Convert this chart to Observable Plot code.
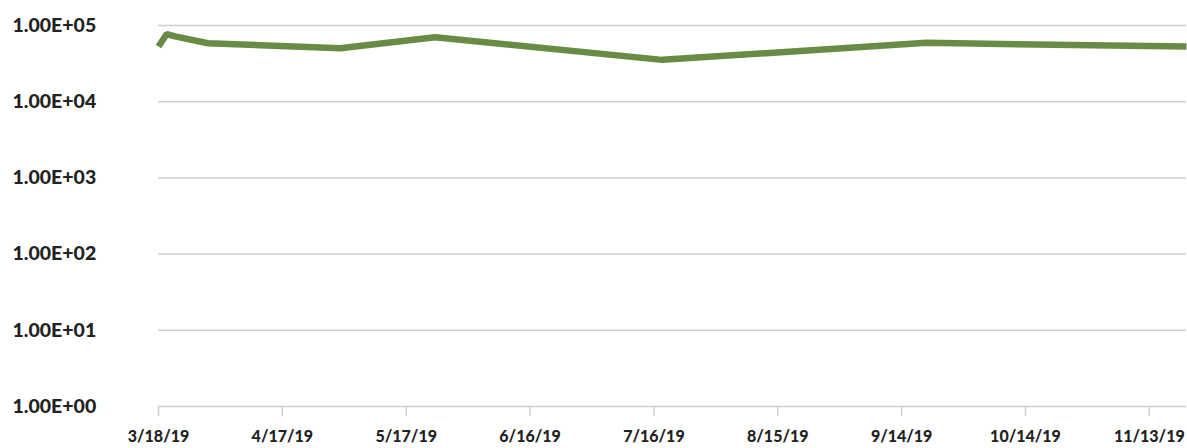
<!DOCTYPE html>
<html>
<head>
<meta charset="utf-8">
<script src="https://cdn.jsdelivr.net/npm/d3@7"></script>
<script src="https://cdn.jsdelivr.net/npm/@observablehq/plot@0.6"></script>
<style>
  html, body { margin: 0; padding: 0; background: #fff; }
  #chart svg { display: block; }
</style>
</head>
<body>
<div id="chart"></div>
<script>
// Data
const dates = ["2019-03-18", "2019-03-20", "2019-03-22", "2019-03-30", "2019-05-01", "2019-05-24", "2019-07-18", "2019-09-20", "2019-11-22"];
const values = [52900, 77300, 72000, 58500, 50300, 70200, 35400, 59200, 52900];

const xTickDates = ["2019-03-18", "2019-04-17", "2019-05-17", "2019-06-16", "2019-07-16", "2019-08-15", "2019-09-14", "2019-10-14", "2019-11-13"];
const xTickLabels = ["3/18/19", "4/17/19", "5/17/19", "6/16/19", "7/16/19", "8/15/19", "9/14/19", "10/14/19", "11/13/19"];
const yTicks = [1, 10, 100, 1000, 10000, 100000];
const yTickLabels = ["1.00E+00", "1.00E+01", "1.00E+02", "1.00E+03", "1.00E+04", "1.00E+05"];

const parse = d3.utcParse("%Y-%m-%d");
const data = dates.map((d, i) => ({date: parse(d), value: values[i]}));
const xTicks = xTickDates.map(parse);
const xDomain = [parse("2019-03-18"), parse("2019-11-22")];

const font = "Lato, 'Open Sans', sans-serif";

const chart = Plot.plot({
  width: 1187,
  height: 448,
  marginTop: 25,
  marginBottom: 42,
  marginLeft: 158,
  marginRight: 1,
  style: {fontFamily: font, fontSize: "19px", fontWeight: 900, color: "#222", background: "#fff"},
  x: {type: "utc", domain: xDomain, label: null},
  y: {type: "log", domain: [1, 100000], label: null},
  marks: [
    Plot.ruleY(yTicks, {stroke: "#cfcfcf", strokeWidth: 1.5}),
    Plot.axisY({
      ticks: yTicks,
      label: null,
      tickSize: 0,
      tickPadding: 146,
      textAnchor: "start",
      tickFormat: (d) => yTickLabels[yTicks.indexOf(d)],
      fill: "#222",
      fontSize: 19.5,
      fontWeight: 900
    }),
    Plot.axisX({
      ticks: xTicks,
      label: null,
      tickSize: 10,
      tickPadding: 14,
      stroke: "#cfcfcf",
      strokeWidth: 1.5,
      tickFormat: (d) => xTickLabels[xTicks.findIndex(t => +t === +d)],
      fill: "#222",
      fontSize: 16,
      fontWeight: 900
    }),
    Plot.line(data, {x: "date", y: "value", stroke: "#688b45", strokeWidth: 6.5, strokeLinejoin: "miter", strokeLinecap: "butt"})
  ]
});
document.getElementById("chart").appendChild(chart);
</script>
</body>
</html>
